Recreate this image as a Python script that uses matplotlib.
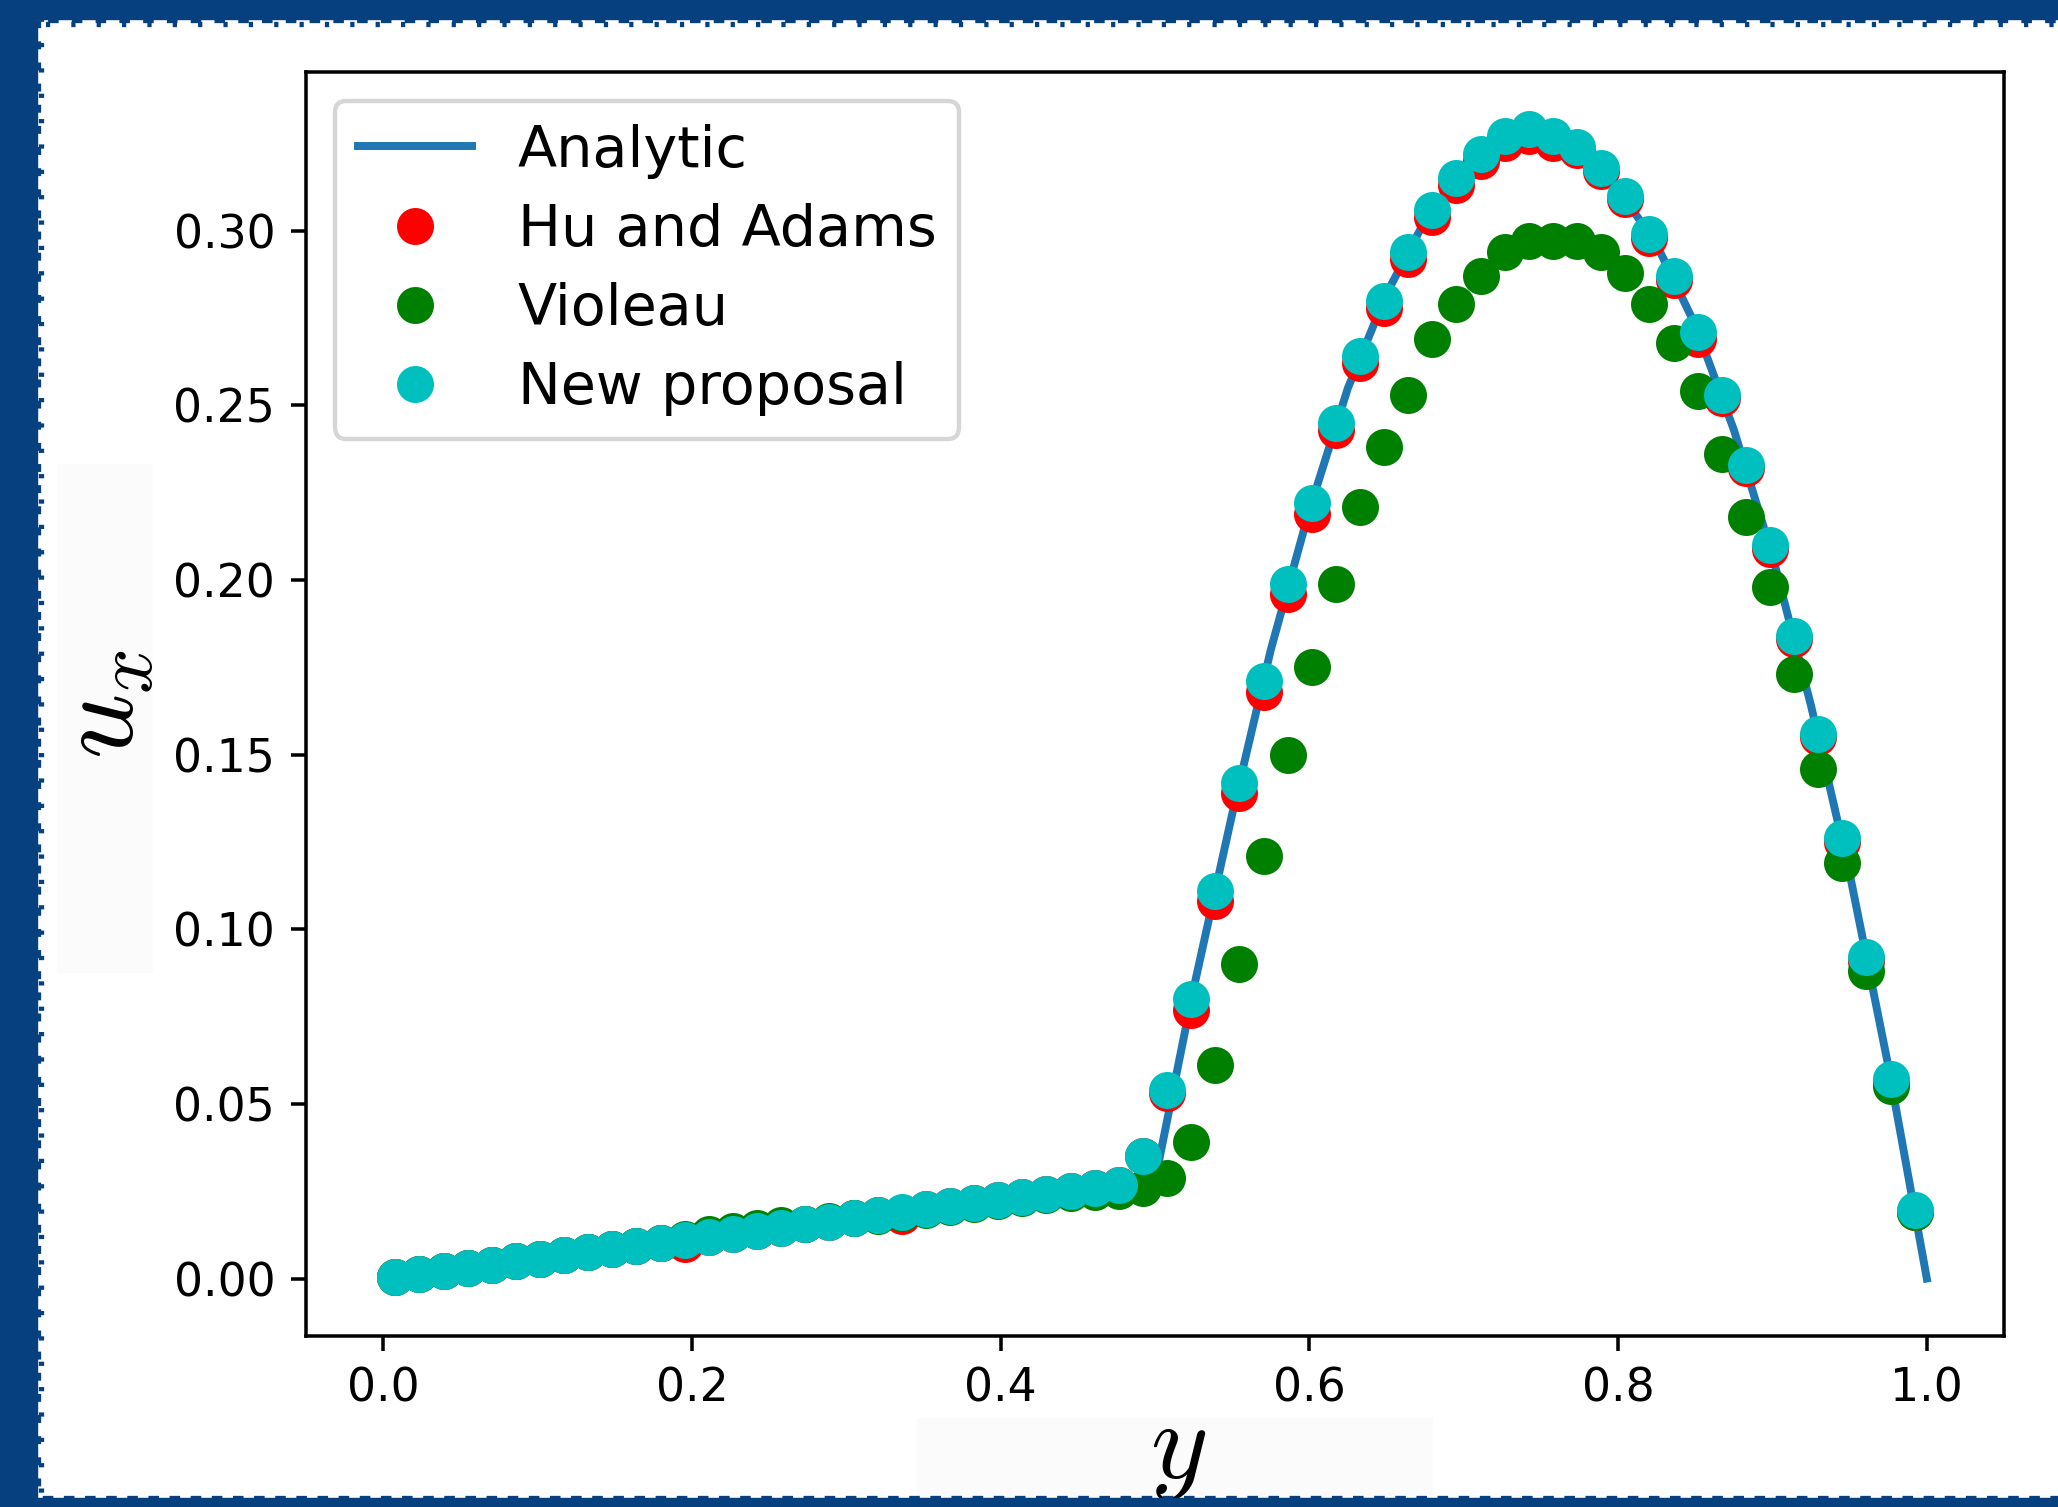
import matplotlib
matplotlib.use('Agg')
import matplotlib.pyplot as plt
from matplotlib.patches import Rectangle

plt.rcParams['mathtext.fontset'] = 'cm'
plt.rcParams['xtick.labelsize'] = 10.4
plt.rcParams['ytick.labelsize'] = 10.4

# sample positions (particle rows) and analytic curve points
y_pts = [0.0078, 0.0234, 0.0391, 0.0547, 0.0703, 0.0859, 0.1016, 0.1172,
         0.1328, 0.1484, 0.1641, 0.1797, 0.1953, 0.2109, 0.2266, 0.2422,
         0.2578, 0.2734, 0.2891, 0.3047, 0.3203, 0.3359, 0.3516, 0.3672,
         0.3828, 0.3984, 0.4141, 0.4297, 0.4453, 0.4609, 0.4766, 0.4922,
         0.5078, 0.5234, 0.5391, 0.5547, 0.5703, 0.5859, 0.6016, 0.6172,
         0.6328, 0.6484, 0.6641, 0.6797, 0.6953, 0.7109, 0.7266, 0.7422,
         0.7578, 0.7734, 0.7891, 0.8047, 0.8203, 0.8359, 0.8516, 0.8672,
         0.8828, 0.8984, 0.9141, 0.9297, 0.9453, 0.9609, 0.9766, 0.9922]

line_y = [0.0, 0.5, 0.525, 0.55, 0.575, 0.6, 0.625, 0.65, 0.675, 0.7, 0.725,
          0.75, 0.775, 0.8, 0.825, 0.85, 0.875, 0.9, 0.925, 0.95, 0.975, 1.0]
line_u = [0.0, 0.028, 0.083, 0.133, 0.180, 0.220, 0.255, 0.282, 0.303, 0.317,
          0.327, 0.329, 0.323, 0.312, 0.296, 0.273, 0.243, 0.207, 0.164,
          0.116, 0.061, 0.0]

hu_adams = [0.0004, 0.0013, 0.0022, 0.0031, 0.0040, 0.0049, 0.0057, 0.0066,
            0.0075, 0.0084, 0.0093, 0.0102, 0.0100, 0.0119, 0.0128, 0.0137,
            0.0146, 0.0155, 0.0163, 0.0172, 0.0181, 0.0180, 0.0199, 0.0207,
            0.0216, 0.0225, 0.0234, 0.0243, 0.0252, 0.0260, 0.0269, 0.035,
            0.053, 0.077, 0.108, 0.139, 0.168, 0.196, 0.219, 0.243,
            0.262, 0.278, 0.292, 0.304, 0.313, 0.320, 0.325, 0.327,
            0.325, 0.323, 0.317, 0.309, 0.298, 0.286, 0.269, 0.252,
            0.232, 0.209, 0.183, 0.155, 0.125, 0.091, 0.056, 0.019]

violeau = [0.0004, 0.0013, 0.0022, 0.0031, 0.0040, 0.0049, 0.0057, 0.0066,
           0.0075, 0.0084, 0.0093, 0.0102, 0.0112, 0.0127, 0.0136, 0.0145,
           0.0152, 0.0157, 0.0164, 0.0172, 0.0180, 0.0187, 0.0197, 0.0206,
           0.0213, 0.0222, 0.0232, 0.0240, 0.0245, 0.0248, 0.0252, 0.026,
           0.0287, 0.039, 0.061, 0.090, 0.121, 0.150, 0.175, 0.199,
           0.221, 0.238, 0.253, 0.269, 0.279, 0.287, 0.294, 0.297,
           0.297, 0.297, 0.294, 0.288, 0.279, 0.268, 0.254, 0.236,
           0.218, 0.198, 0.173, 0.146, 0.119, 0.088, 0.055, 0.019]

new_prop = [0.0004, 0.0013, 0.0022, 0.0031, 0.0040, 0.0049, 0.0057, 0.0066,
            0.0075, 0.0084, 0.0093, 0.0102, 0.0110, 0.0119, 0.0128, 0.0137,
            0.0146, 0.0155, 0.0163, 0.0172, 0.0181, 0.0190, 0.0199, 0.0207,
            0.0216, 0.0225, 0.0234, 0.0243, 0.0252, 0.0260, 0.0269, 0.035,
            0.054, 0.080, 0.111, 0.142, 0.171, 0.199, 0.222, 0.245,
            0.264, 0.280, 0.294, 0.306, 0.315, 0.322, 0.327, 0.329,
            0.327, 0.324, 0.318, 0.310, 0.299, 0.287, 0.271, 0.253,
            0.233, 0.210, 0.184, 0.156, 0.126, 0.092, 0.057, 0.0195]

W, H, DPI = 2058, 1507, 317
blue = '#06407f'

fig = plt.figure(figsize=(W / DPI, H / DPI), dpi=DPI)
ax = fig.add_axes([306 / W, 1 - 1336 / H, (2004 - 306) / W, (1336 - 72) / H])

ax.plot(line_y, line_u, color='#1f77b4', lw=1.8, label='Analytic')
ax.plot(y_pts, hu_adams, 'o', color='r', ms=7.4, label='Hu and Adams')
ax.plot(y_pts, violeau, 'o', color='g', ms=7.4, label='Violeau')
ax.plot(y_pts, new_prop, 'o', color='c', ms=7.4, label='New proposal')

ax.legend(loc='upper left', fontsize=13, labelspacing=0.42)
ax.set_ylabel(r'$u_x$', fontsize=26, va='center')
ax.yaxis.set_label_coords(-0.12, 0.5)
ax.set_xlabel(r'$y$', fontsize=25, va='center')
ax.xaxis.set_label_coords(0.5136, -0.09)

# faint boxes behind the axis labels
fig.add_artist(Rectangle((59 / W, 1 - 971 / H), 92 / W, 505 / H,
                         transform=fig.transFigure, color='#fbfbfb', zorder=-1))
fig.add_artist(Rectangle((919 / W, 1 - 1496 / H), 512 / W, 76 / H,
                         transform=fig.transFigure, color='#fbfbfb', zorder=-1))

# blue frame with a ragged inner edge
fig.add_artist(Rectangle((0, 0), 36 / W, 1, transform=fig.transFigure, color=blue))
fig.add_artist(Rectangle((0, 1 - 18 / H), 1, 18 / H, transform=fig.transFigure, color=blue))
fig.add_artist(Rectangle((0, 0), 1, 7 / H, transform=fig.transFigure, color=blue))
edge = dict(transform=fig.transFigure, color=blue, lw=1.2, solid_capstyle='butt')
fig.add_artist(plt.Line2D([38 / W, 38 / W], [0, 1], ls=(0, (1.5, 2.5)), **edge))
fig.add_artist(plt.Line2D([41 / W, 41 / W], [0, 1], ls=(2, (0.8, 4)), **edge))
fig.add_artist(plt.Line2D([0, 1], [1 - 20 / H, 1 - 20 / H], ls=(0, (2, 2.5)), **edge))
fig.add_artist(plt.Line2D([0, 1], [1 - 24 / H, 1 - 24 / H], ls=(1, (0.8, 4)), **edge))
fig.add_artist(plt.Line2D([0, 1], [9 / H, 9 / H], ls=(0, (2, 2)), **edge))

fig.savefig('out.png', dpi=DPI)
